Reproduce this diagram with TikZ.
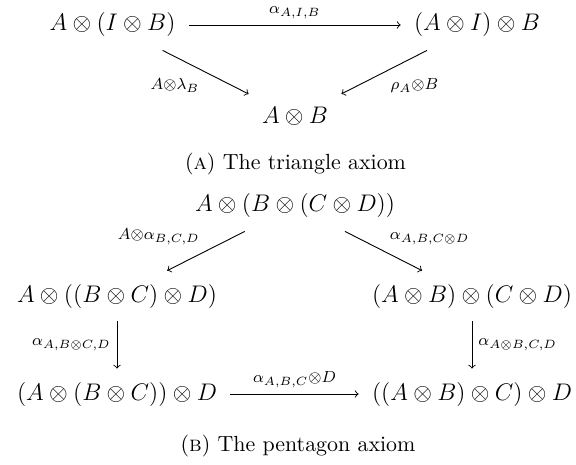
\documentclass[tikz,border=0pt]{standalone}
\tikzset{
  obj/.style={inner sep=6.5pt, text height=9pt, text depth=3pt, font=\fontsize{12}{14}\selectfont},
  lab/.style={inner sep=3pt, font=\fontsize{12}{14}\selectfont},
  arr/.style={->, line width=0.45pt},
  capt/.style={inner sep=0pt, font=\fontsize{10.95}{13}\selectfont}
}
\begin{document}
\begin{tikzpicture}[x=0.5pt, y=-0.5pt]
\useasboundingbox (0,0) rectangle (576,464);
% triangle
\node[obj] (t1) at (112.5,25) {$A\otimes(I\otimes B)$};
\node[obj] (t2) at (477,25) {$(A\otimes I)\otimes B$};
\node[obj] (t3) at (295,117.5) {$A\otimes B$};
\draw[arr] (t1) -- node[lab, anchor=south] {$\scriptstyle\alpha_{A,I,B}$} (t2);
\draw[arr] (t1) -- node[lab, anchor=north east] {$\scriptstyle A\otimes\lambda_B$} (t3);
\draw[arr] (t2) -- node[lab, anchor=north west] {$\scriptstyle\rho_A\otimes B$} (t3);
\node[capt] (ca) at (295.5,164) {(\textsc{a}) The triangle axiom};
% pentagon
\node[obj] (p1) at (295,206) {$A\otimes(B\otimes(C\otimes D))$};
\node[obj] (p2) at (117,296) {$A\otimes((B\otimes C)\otimes D)$};
\node[obj] (p3) at (472,296) {$(A\otimes B)\otimes(C\otimes D)$};
\node[obj] (p4) at (117,394) {$(A\otimes(B\otimes C))\otimes D$};
\node[obj] (p5) at (472,394) {$((A\otimes B)\otimes C)\otimes D$};
\draw[arr] (p1) -- node[lab, anchor=south east] {$\scriptstyle A\otimes\alpha_{B,C,D}$} (p2);
\draw[arr] (p1) -- node[lab, anchor=south west] {$\scriptstyle\alpha_{A,B,C\otimes D}$} (p3);
\draw[arr] (p2) -- node[lab, anchor=east] {$\scriptstyle\alpha_{A,B\otimes C,D}$} (p4);
\draw[arr] (p3) -- node[lab, anchor=west] {$\scriptstyle\alpha_{A\otimes B,C,D}$} (p5);
\draw[arr] (p4) -- node[lab, anchor=south] {$\scriptstyle\alpha_{A,B,C}\otimes D$} (p5);
\node[capt] (cb) at (298,446) {(\textsc{b}) The pentagon axiom};
\end{tikzpicture}
\end{document}
